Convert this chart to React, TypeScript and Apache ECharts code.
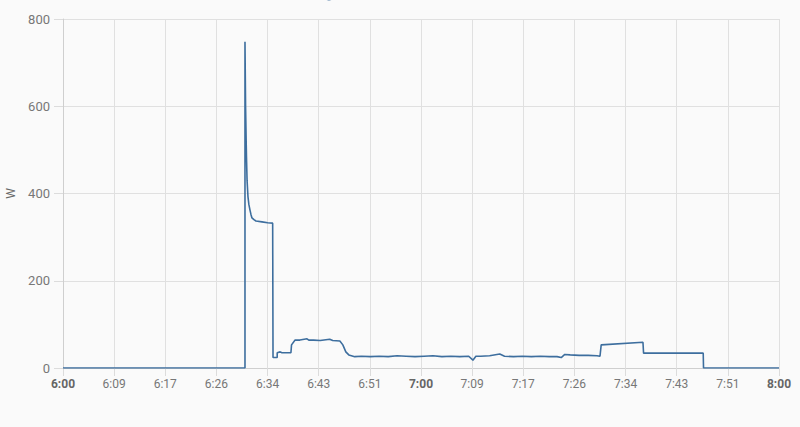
import React, { useEffect, useRef } from "react";
import * as echarts from "echarts";

// minutes after 6:00
const minutes: number[] = [
  0, 30.5, 30.5, 30.6, 30.7, 30.75, 30.85, 31.0, 31.15, 31.34, 31.5, 31.67, 32.0, 32.34, 33.35, 34.3, 35.14,
  35.2, 35.9, 35.9, 36.4, 36.7, 38.2, 38.3, 38.9, 39.7, 40.9, 41.2, 42.0, 43.1, 44.7, 45.2, 46.4, 46.9, 47.4,
  47.9, 48.9, 50, 51.5, 53, 54.5, 56, 57.5, 59, 60.5, 62, 63.5, 65, 66.5, 68, 68.7, 69.2, 70, 71.5, 73.2,
  74, 75.5, 77, 78.5, 80, 81.5, 82.8, 83.5, 84.1, 85, 86.5, 88, 89.5, 90.0, 90.2, 97.2, 97.3, 107.3, 107.35, 120,
];
const watts: number[] = [
  0, 0, 748, 600, 520, 484, 430, 393, 375, 362, 352, 344, 340, 337, 335, 333, 332,
  24, 24, 35, 37, 35, 35, 53, 64, 64, 67, 64, 64, 63, 66, 63, 62, 53, 37,
  30, 26, 27, 26, 27, 26, 28, 27, 26, 27, 28, 26, 27, 26, 27, 18, 27, 27, 28, 32,
  27, 26, 27, 26, 27, 26, 26, 24, 31, 30, 29, 29, 28, 27, 53, 59, 34, 34, 0, 0,
];

const seriesName = "Power";
const yTicks = [0, 200, 400, 600, 800];

function fmt(m: number): string {
  const r = Math.round(m);
  const h = 6 + Math.floor(r / 60);
  const mm = r % 60;
  return `${h}:${mm < 10 ? "0" + mm : mm}`;
}

export default function App() {
  const ref = useRef<HTMLDivElement>(null);
  useEffect(() => {
    if (!ref.current) return;
    const chart = echarts.init(ref.current, undefined, { renderer: "svg" });
    const data = minutes.map((m, i) => [m, watts[i]]);
    chart.setOption({
      animation: false,
      backgroundColor: "#fafafa",
      textStyle: { fontFamily: "Roboto" },
      legend: {
        top: -17,
        left: 318,
        icon: "circle",
        itemWidth: 12,
        itemHeight: 12,
        textStyle: { color: "#555", fontSize: 13, fontFamily: "Roboto" },
        data: [seriesName],
      },
      grid: { left: 63, right: 21, top: 19, bottom: 59, outerBoundsMode: "none", containLabel: false },
      xAxis: {
        type: "value",
        min: 0,
        max: 120,
        interval: 120 / 14,
        axisLine: { show: true, lineStyle: { color: "#cfcfcf", width: 1 } },
        axisTick: { show: true, length: 8, lineStyle: { color: "#dcdcdc" } },
        splitLine: { show: true, lineStyle: { color: "#e0e0e0", width: 1 } },
        axisLabel: {
          margin: 10,
          fontSize: 12,
          color: "#777",
          fontFamily: "Roboto",
          formatter: (v: number) => {
            const r = Math.round(v);
            const s = fmt(v);
            return r % 60 === 0 ? `{b|${s}}` : s;
          },
          rich: { b: { fontWeight: "bold", color: "#666", fontSize: 12, fontFamily: "Roboto" } },
        },
      },
      yAxis: {
        type: "value",
        min: yTicks[0],
        max: yTicks[yTicks.length - 1],
        interval: 200,
        name: "W",
        nameLocation: "middle",
        nameGap: 45,
        nameRotate: 90,
        nameTextStyle: { color: "#666", fontSize: 12, fontFamily: "Roboto" },
        axisLine: { show: true, lineStyle: { color: "#cfcfcf", width: 1 } },
        axisTick: { show: true, length: 9, lineStyle: { color: "#dcdcdc" } },
        splitLine: { show: true, lineStyle: { color: "#e0e0e0", width: 1 } },
        axisLabel: { margin: 13, fontSize: 13, color: "#777", fontFamily: "Roboto" },
      },
      series: [
        {
          name: seriesName,
          type: "line",
          data,
          showSymbol: false,
          symbol: "circle",
          lineStyle: { color: "#3d6e9e", width: 1.6 },
          itemStyle: { color: "#3d6e9e" },
        },
      ],
    });
    return () => chart.dispose();
  }, []);
  return <div ref={ref} style={{ width: 800, height: 427, position: "absolute", left: 0, top: 0 }} />;
}
